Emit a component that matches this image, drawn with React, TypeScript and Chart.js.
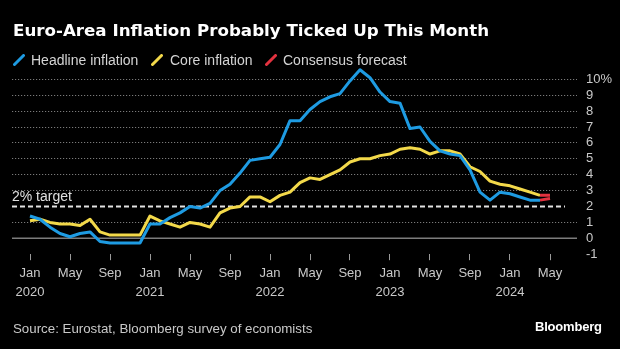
import React, { useEffect, useRef } from "react";
import { Chart, registerables } from "chart.js";

Chart.register(...registerables);

// ---- Data (monthly, Jan 2020 = index 0) ----
const headline = [
  1.4, 1.2, 0.7, 0.3, 0.1, 0.3, 0.4, -0.2, -0.3, -0.3, -0.3, -0.3,
  0.9, 0.9, 1.3, 1.6, 2.0, 1.9, 2.2, 3.0, 3.4, 4.1, 4.9, 5.0,
  5.1, 5.9, 7.4, 7.4, 8.1, 8.6, 8.9, 9.1, 9.9, 10.6, 10.1, 9.2,
  8.6, 8.5, 6.9, 7.0, 6.1, 5.5, 5.3, 5.2, 4.3, 2.9, 2.4, 2.9,
  2.8, 2.6, 2.4, 2.4,
];
const core = [
  1.1, 1.2, 1.0, 0.9, 0.9, 0.8, 1.2, 0.4, 0.2, 0.2, 0.2, 0.2,
  1.4, 1.1, 0.9, 0.7, 1.0, 0.9, 0.7, 1.6, 1.9, 2.0, 2.6, 2.6,
  2.3, 2.7, 2.9, 3.5, 3.8, 3.7, 4.0, 4.3, 4.8, 5.0, 5.0, 5.2,
  5.3, 5.6, 5.7, 5.6, 5.3, 5.5, 5.5, 5.3, 4.5, 4.2, 3.6, 3.4,
  3.3, 3.1, 2.9, 2.7,
];
// Consensus forecast: from Apr 2024 (last actual) to May 2024
const forecastMonths = [51, 52];
const headlineForecast = [2.4, 2.5];
const coreForecast = [2.7, 2.7];
const targetRate = 2;

const xTickMonths = [0, 4, 8, 12, 16, 20, 24, 28, 32, 36, 40, 44, 48, 52];
const monthNames = ["Jan", "May", "Sep"];
const startYear = 2020;
const yTickValues = [-1, 0, 1, 2, 3, 4, 5, 6, 7, 8, 9, 10];

const X_MIN = -1.8;
const X_MAX = 54.7;
const TARGET_END = 53.5;

const BLUE = "#1e9be2";
const YELLOW = "#f3d94a";
const RED = "#e3323f";

const toPoints = (vals: number[], start = 0) =>
  vals.map((v, i) => ({ x: start + i, y: v }));

const legendItems = [
  { label: "Headline inflation", color: BLUE, iconX: 13, textX: 31 },
  { label: "Core inflation", color: YELLOW, iconX: 151, textX: 170 },
  { label: "Consensus forecast", color: RED, iconX: 265, textX: 283 },
];

export default function App() {
  const canvasRef = useRef<HTMLCanvasElement | null>(null);

  useEffect(() => {
    document.body.style.margin = "0";
    document.body.style.background = "#000";
    const canvas = canvasRef.current;
    if (!canvas) return;
    const chart = new Chart(canvas, {
      type: "line",
      data: {
        datasets: [
          {
            label: "Consensus forecast (headline)",
            data: forecastMonths.map((m, i) => ({ x: m, y: headlineForecast[i] })),
            borderColor: RED,
            borderWidth: 3,
            pointRadius: 0,
          },
          {
            label: "Consensus forecast (core)",
            data: forecastMonths.map((m, i) => ({ x: m, y: coreForecast[i] })),
            borderColor: RED,
            borderWidth: 3,
            pointRadius: 0,
          },
          {
            label: "Headline inflation",
            data: toPoints(headline),
            borderColor: BLUE,
            borderWidth: 3,
            pointRadius: 0,
          },
          {
            label: "Core inflation",
            data: toPoints(core),
            borderColor: YELLOW,
            borderWidth: 3,
            pointRadius: 0,
          },
          {
            label: "2% target",
            data: [
              { x: X_MIN, y: targetRate },
              { x: TARGET_END, y: targetRate },
            ],
            borderColor: "#e2e2e2",
            borderWidth: 2,
            borderDash: [5, 3],
            pointRadius: 0,
          },
          {
            label: "zero",
            data: [
              { x: X_MIN, y: 0 },
              { x: X_MAX, y: 0 },
            ],
            borderColor: "#7c7c7c",
            borderWidth: 1.5,
            pointRadius: 0,
          },
        ],
      },
      options: {
        animation: false,
        responsive: false,
        maintainAspectRatio: false,
        layout: { padding: { left: 12, right: 0, top: 63.4, bottom: 0 } },
        plugins: {
          legend: { display: false },
          title: { display: false },
          tooltip: { enabled: false },
        },
        elements: { line: { tension: 0, borderJoinStyle: "round", borderCapStyle: "butt" } },
        scales: {
          x: {
            type: "linear",
            min: X_MIN,
            max: X_MAX,
            afterBuildTicks: (scale: any) => {
              scale.ticks = xTickMonths.map((v) => ({ value: v }));
            },
            afterFit: (scale: any) => {
              scale.height = 349 - 254.2;
            },
            ticks: {
              autoSkip: false,
              maxRotation: 0,
              minRotation: 0,
              padding: 4,
              color: "#c9c9c9",
              font: { family: "Liberation Sans", size: 13, lineHeight: 1.45 },
              callback: (value: any) => {
                const m = Number(value);
                const name = monthNames[(m % 12) / 4];
                return m % 12 === 0 ? [name, String(startYear + m / 12)] : [name];
              },
            },
            grid: {
              drawOnChartArea: false,
              drawTicks: true,
              tickLength: 6,
              color: "#9a9a9a",
              lineWidth: 1,
            },
            border: { display: false },
          },
          y: {
            type: "linear",
            position: "right",
            min: -1,
            max: 11,
            afterBuildTicks: (scale: any) => {
              scale.ticks = yTickValues.map((v) => ({ value: v }));
            },
            afterFit: (scale: any) => {
              scale.width = 43;
            },
            ticks: {
              autoSkip: false,
              padding: 9,
              color: "#c9c9c9",
              font: { family: "Liberation Sans", size: 13 },
              callback: (value: any) => (Number(value) === 10 ? "10%" : String(value)),
            },
            grid: {
              drawTicks: false,
              lineWidth: 1,
              color: (ctx: any) => {
                const v = ctx.tick ? ctx.tick.value : null;
                return v === -1 || v === 0 || v === 2 ? "rgba(0,0,0,0)" : "#7a7a7a";
              },
            },
            border: { display: false, dash: [1.2, 1.8] },
          },
        },
      } as any,
    });
    return () => chart.destroy();
  }, []);

  const font = "'Liberation Sans', Arial, sans-serif";

  return (
    <div
      style={{
        position: "fixed",
        left: 0,
        top: 0,
        width: 620,
        height: 349,
        background: "#000",
        overflow: "hidden",
        fontFamily: font,
      }}
    >
      <canvas
        ref={canvasRef}
        width={620}
        height={349}
        style={{ position: "absolute", left: 0, top: 0, width: 620, height: 349 }}
      />
      <div
        style={{
          position: "absolute",
          left: 13,
          top: 19,
          lineHeight: "22px",
          fontSize: 16.7,
          fontWeight: "bold",
          fontFamily: "'DejaVu Sans', sans-serif",
          color: "#fff",
          whiteSpace: "nowrap",
        }}
      >
        Euro-Area Inflation Probably Ticked Up This Month
      </div>
      {legendItems.map((it) => (
        <React.Fragment key={it.label}>
          <svg
            width={12}
            height={12}
            style={{ position: "absolute", left: it.iconX, top: 54 }}
          >
            <line x1={1.5} y1={10.5} x2={10.5} y2={1.5} stroke={it.color} strokeWidth={3} strokeLinecap="round" />
          </svg>
          <div
            style={{
              position: "absolute",
              left: it.textX,
              top: 51,
              lineHeight: "18px",
              fontSize: 14,
              color: "#d4d4d4",
              whiteSpace: "nowrap",
            }}
          >
            {it.label}
          </div>
        </React.Fragment>
      ))}
      <div
        style={{
          position: "absolute",
          left: 12,
          top: 188,
          lineHeight: "17px",
          fontSize: 14,
          color: "#e0e0e0",
          whiteSpace: "nowrap",
        }}
      >
        2% target
      </div>
      <div
        style={{
          position: "absolute",
          left: 13,
          top: 320,
          lineHeight: "17px",
          fontSize: 13.3,
          color: "#c9c9c9",
          whiteSpace: "nowrap",
        }}
      >
        Source: Eurostat, Bloomberg survey of economists
      </div>
      <div
        style={{
          position: "absolute",
          left: 535,
          top: 318,
          lineHeight: "17px",
          fontSize: 13,
          fontWeight: "bold",
          color: "#fff",
          whiteSpace: "nowrap",
          letterSpacing: -0.2,
        }}
      >
        Bloomberg
      </div>
    </div>
  );
}
